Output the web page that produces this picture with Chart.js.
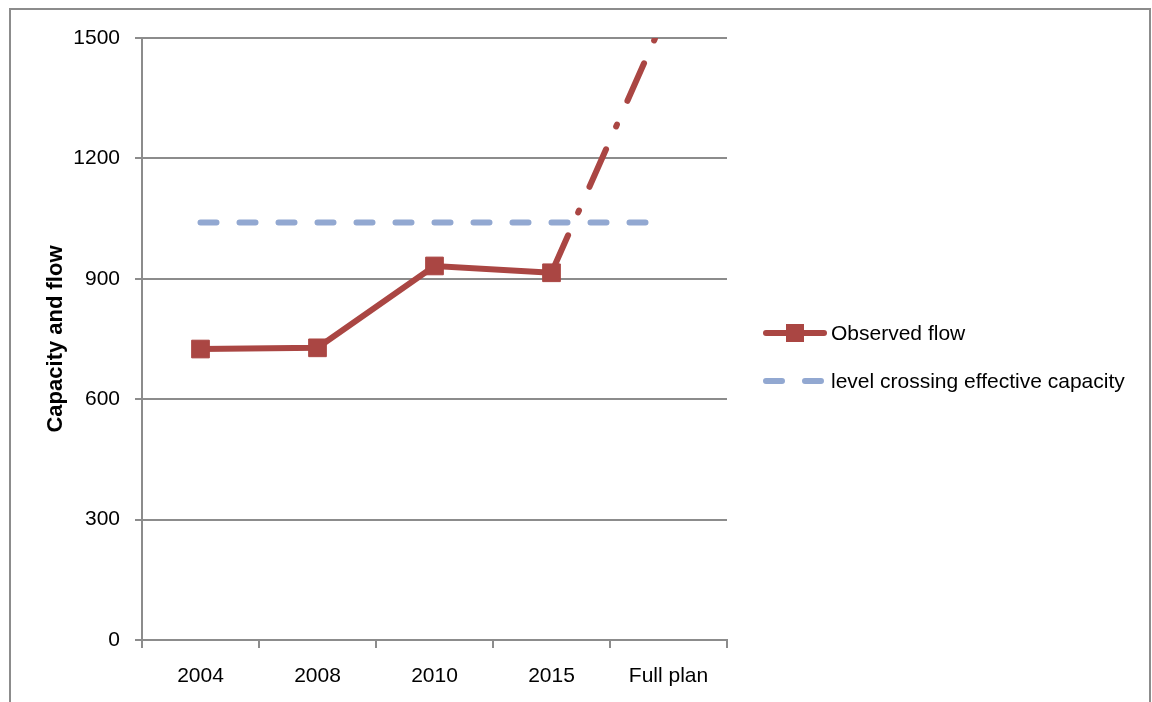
<!DOCTYPE html>
<html lang="en">
<head>
    <meta charset="UTF-8">
    <title>Capacity and flow</title>
    <script src="https://cdn.jsdelivr.net/npm/chart.js@4.4.2/dist/chart.umd.min.js"></script>
    <style>
        body {
          margin: 0;
          padding: 0;
          background-color: #fff;}
        #wrap {
          width: 1152px;
          height: 702px;}
    </style>
</head>
<body>
    <div id="wrap"><canvas id="flowChart"></canvas></div>

<script>
    // values
    const years = ['2004', '2008', '2010', '2015', 'Full plan'];
    const observedFlow = [725, 728, 932, 915, 1575];
    const capacity = [1040, 1040, 1040, 1040, 1040];
    const yTicks = [0, 300, 600, 900, 1200, 1500];

    const flowRed = '#AA4643';
    const capBlue = '#92A8D1';
    const gridGrey = '#8C8C8C';
    const fontName = "'Liberation Sans Narrow', 'Liberation Sans', sans-serif";

    // grey frame around the whole picture plus the legend on the right
    const framePlugin = {
        id: 'frame',
        afterDraw(chart) {
            const ctx = chart.ctx;
            ctx.save();
            ctx.strokeStyle = gridGrey;
            ctx.lineWidth = 2;
            ctx.beginPath();
            ctx.moveTo(10, 710);
            ctx.lineTo(10, 9);
            ctx.lineTo(1150, 9);
            ctx.lineTo(1150, 710);
            ctx.stroke();

            // legend
            const items = chart.data.datasets;
            const x0 = 763, x1 = 827;
            items.forEach((ds, i) => {
                const y = 333 + i * 48;
                ctx.strokeStyle = ds.borderColor;
                ctx.lineWidth = 6;
                ctx.lineCap = 'round';
                ctx.setLineDash(ds.borderDash || []);
                ctx.beginPath();
                ctx.moveTo(x0 + 3, y);
                ctx.lineTo(x1 - 3, y);
                ctx.stroke();
                ctx.setLineDash([]);
                if (ds.pointRadius > 0) {
                    ctx.fillStyle = ds.pointBackgroundColor;
                    ctx.fillRect((x0 + x1) / 2 - 9, y - 9, 18, 18);
                }
                ctx.fillStyle = '#000';
                ctx.font = '21px ' + fontName;
                ctx.textBaseline = 'middle';
                ctx.textAlign = 'left';
                ctx.fillText(ds.label, 831, y + 1);
            });
            ctx.restore();
        }
    };

    const ctx = document.getElementById('flowChart').getContext('2d');
    const flowChart = new Chart(ctx, {
        type: 'line',
        data: {
            labels: years,
            datasets: [
                {
                    label: 'Observed flow',
                    data: observedFlow,
                    borderColor: flowRed,
                    backgroundColor: flowRed,
                    borderWidth: 6,
                    pointStyle: 'rect',
                    pointRadius: 12.5,
                    pointBorderWidth: 1,
                    pointBackgroundColor: flowRed,
                    pointBorderColor: flowRed,
                    clip: 0,
                    segment: {
                        // last leg (to the full plan) is dash-dot
                        borderDash: c => c.p1DataIndex === 4 ? [41, 25, 2, 26] : undefined,
                        borderCapStyle: c => c.p1DataIndex === 4 ? 'round' : 'butt'
                    }
                },
                {
                    label: 'level crossing effective capacity',
                    data: capacity,
                    borderColor: capBlue,
                    borderWidth: 6,
                    borderDash: [16, 23],
                    borderCapStyle: 'round',
                    pointRadius: 0,
                    clip: 0
                }
            ]
        },
        options: {
            responsive: true,
            maintainAspectRatio: false,
            animation: false,
            layout: {
                padding: {left: 0, top: 38, right: 425, bottom: 0}},
            plugins: {
                legend: {display: false},
                tooltip: {enabled: false}},
            scales: {
                x: {
                    offset: true,
                    grid: {
                        offset: true,
                        drawOnChartArea: false,
                        color: gridGrey,
                        lineWidth: 2,
                        tickLength: 8},
                    border: {color: gridGrey, width: 2},
                    ticks: {
                        color: '#000',
                        padding: 16,
                        font: {family: fontName, size: 21}},
                    afterFit: s => { s.height = 62; }
                },
                y: {
                    min: 0,
                    max: 1500,
                    afterBuildTicks: s => { s.ticks = yTicks.map(v => ({value: v})); },
                    grid: {
                        color: gridGrey,
                        lineWidth: 2,
                        tickLength: 7},
                    border: {color: gridGrey, width: 2},
                    ticks: {
                        color: '#000',
                        padding: 15,
                        font: {family: fontName, size: 21},
                        callback: v => String(v)},
                    title: {
                        display: true,
                        text: 'Capacity and flow',
                        color: '#000',
                        padding: {top: 43, bottom: 0},
                        font: {family: fontName, size: 22, weight: 'bold'}},
                    afterFit: s => { s.width = 142; }
                }
            }
        },
        plugins: [framePlugin]
    });
</script>
</body>
</html>
